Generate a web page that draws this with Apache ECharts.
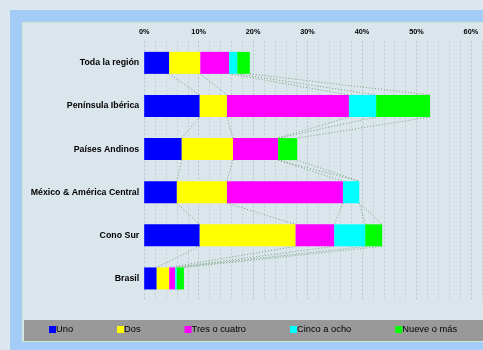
<!DOCTYPE html>
<html>
<head>
<meta charset="utf-8">
<script src="https://cdn.jsdelivr.net/npm/echarts@6/dist/echarts.min.js"></script>
<style>
  html, body { margin: 0; padding: 0; background: #dce6ee; overflow: hidden; width: 483px; height: 350px; }
  #stage { position: relative; width: 483px; height: 350px; overflow: hidden; }
  .frame { position: absolute; left: 10px; top: 10px; right: 0; bottom: 0; background: #a3cdf6; }
  .panel { position: absolute; left: 22px; top: 22px; width: 470px; height: 320px; background: #dae5ec; border: 1px solid #cfe6d2; box-sizing: border-box; }
  .legend-box { position: absolute; left: 24px; top: 320px; width: 470px; height: 21px; background: #999999; }
  #chart { position: absolute; left: 0; top: 0; width: 540px; height: 350px; }
</style>
</head>
<body>
<div id="stage">
  <div class="frame"></div>
  <div class="panel"></div>
  <div class="legend-box"></div>
  <div id="chart"></div>
</div>
<script>
// Regions, top to bottom
const categories = [
  'Toda la región',
  'Península Ibérica',
  'Países Andinos',
  'México & América Central',
  'Cono Sur',
  'Brasil'
];

// Share (%) per group, one array per segment
const seriesNames = ['Uno', 'Dos', 'Tres o cuatro', 'Cinco a ocho', 'Nueve o más'];
const uno        = [4.6, 10.2, 6.9, 6.0, 10.2, 2.3];
const dos        = [5.7,  5.0, 9.4, 9.2, 17.6, 2.3];
const tresCuatro = [5.3, 22.4, 8.3, 21.3, 7.1, 1.1];
const cincoOcho  = [1.5,  5.0, 0.0, 3.0,  5.7, 0.3];
const nueveMas   = [2.3,  9.9, 3.5, 0.0,  3.1, 1.3];

// Axis ticks (percent)
const tickValues = [0, 10, 20, 30, 40, 50, 60];

const colors = ['#0000ff', '#ffff00', '#ff00ff', '#00ffff', '#00ff00'];
const values = [uno, dos, tresCuatro, cincoOcho, nueveMas];
const BAR_H = 22;
const FONT = '"Liberation Sans", Arial, sans-serif';

// Running totals: the right edge of each segment in each bar
const ends = values.map((_, s) =>
  categories.map((_, i) => values.slice(0, s + 1).reduce((acc, arr) => acc + arr[i], 0))
);

// Connector lines between the same segment edge of neighbouring bars
const connectorData = [];
ends.forEach(row => {
  for (let i = 0; i < categories.length - 1; i++) {
    connectorData.push([row[i], i, row[i + 1], i + 1]);
  }
});

const chart = echarts.init(document.getElementById('chart'), null, { renderer: 'canvas' });

const barSeries = seriesNames.map((name, s) => ({
  name: name,
  type: 'bar',
  stack: 'total',
  barWidth: BAR_H,
  itemStyle: { color: colors[s] },
  emphasis: { disabled: true },
  data: values[s]
}));

chart.setOption({
  backgroundColor: 'transparent',
  animation: false,
  textStyle: { fontFamily: FONT },
  // plot runs on past the visible edge (to 70%)
  grid: { left: 144.2, right: 14.65, top: 41.3, bottom: 50 },
  xAxis: {
    type: 'value',
    position: 'top',
    min: 0,
    max: 70,
    interval: 10,
    axisLine: { show: false },
    axisTick: { show: false },
    axisLabel: {
      margin: 6,
      fontFamily: FONT,
      fontSize: 7.3,
      fontWeight: 'bold',
      color: '#000',
      formatter: v => tickValues.indexOf(v) >= 0 ? v + '%' : ''
    },
    splitLine: { show: true, lineStyle: { color: '#b9c3cc', type: [2, 2], width: 1 } },
    minorTick: { show: false, splitNumber: 5 },
    minorSplitLine: { show: true, lineStyle: { color: '#c6ced6', type: [2, 2], width: 1 } }
  },
  yAxis: {
    type: 'category',
    inverse: true,
    data: categories,
    axisLine: { show: false },
    axisTick: { show: false },
    axisLabel: {
      margin: 5,
      fontFamily: FONT,
      fontSize: 8.8,
      fontWeight: 'bold',
      color: '#000'
    }
  },
  legend: {
    data: seriesNames,
    left: 44,
    top: 320,
    itemWidth: 7,
    itemHeight: 7,
    itemGap: 44,
    icon: 'rect',
    selectedMode: false,
    textStyle: { fontFamily: FONT, fontSize: 9.3, color: '#000', padding: [0, 0, 0, -5] }
  },
  series: barSeries.concat([{
    type: 'custom',
    name: 'conectores',
    silent: true,
    z: 1,
    encode: { x: [0, 2], y: [1, 3] },
    data: connectorData,
    renderItem: function (params, api) {
      const a = api.coord([api.value(0), api.value(1)]);
      const b = api.coord([api.value(2), api.value(3)]);
      return {
        type: 'line',
        shape: { x1: a[0], y1: a[1] + BAR_H / 2, x2: b[0], y2: b[1] - BAR_H / 2 },
        style: { stroke: '#74a278', lineWidth: 1, lineDash: [1, 2] }
      };
    }
  }])
});
</script>
</body>
</html>
